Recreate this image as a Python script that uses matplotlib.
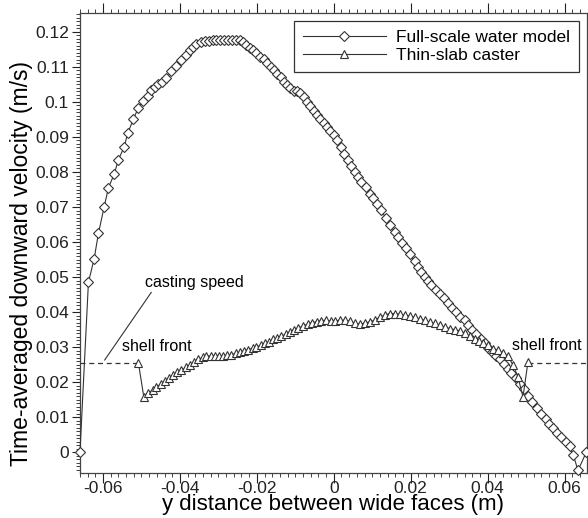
import numpy as np
import matplotlib
matplotlib.use("Agg")
import matplotlib.pyplot as plt
from matplotlib.ticker import MultipleLocator, FormatStrFormatter

plt.rcParams["font.family"] = ["Liberation Sans", "DejaVu Sans"]
plt.rcParams["axes.unicode_minus"] = False

# full-scale water model (diamonds)
water_x = [-0.0660, -0.0638, -0.0623, -0.0612, -0.0597, -0.0586, -0.0571, -0.0560,
           -0.0545, -0.0536, -0.0521, -0.0508, -0.0495, -0.0484, -0.0474, -0.0465,
           -0.0456, -0.0446, -0.0435, -0.0422, -0.0409, -0.0396, -0.0385, -0.0374,
           -0.0365, -0.0357, -0.0345, -0.0335, -0.0325, -0.0315, -0.0305, -0.0295,
           -0.0285, -0.0275, -0.0265, -0.0255, -0.0245, -0.0236, -0.0227, -0.0218,
           -0.0210, -0.0201, -0.0192, -0.0182, -0.0173, -0.0164, -0.0156, -0.0147,
           -0.0138, -0.0130, -0.0121, -0.0113, -0.0104, -0.0095, -0.0087, -0.0078,
           -0.0069, -0.0061, -0.0052, -0.0043, -0.0035, -0.0026, -0.0017, -0.0009,
           0.0000, 0.0009, 0.0018, 0.0027, 0.0036, 0.0045, 0.0054, 0.0063,
           0.0072, 0.0083, 0.0094, 0.0103, 0.0112, 0.0124, 0.0135, 0.0147,
           0.0158, 0.0167, 0.0178, 0.0189, 0.0199, 0.0210, 0.0219, 0.0228,
           0.0236, 0.0245, 0.0254, 0.0265, 0.0275, 0.0286, 0.0297, 0.0308,
           0.0319, 0.0329, 0.0340, 0.0349, 0.0360, 0.0371, 0.0384, 0.0392,
           0.0401, 0.0412, 0.0423, 0.0431, 0.0442, 0.0453, 0.0462, 0.0473,
           0.0483, 0.0494, 0.0505, 0.0516, 0.0528, 0.0539, 0.0551, 0.0559,
           0.0570, 0.0580, 0.0591, 0.0604, 0.0613, 0.0623, 0.0635, 0.0657]
water_v = [0.0000, 0.0485, 0.0553, 0.0625, 0.0701, 0.0755, 0.0794, 0.0835,
           0.0872, 0.0910, 0.0951, 0.0984, 0.1003, 0.1017, 0.1035, 0.1044,
           0.1051, 0.1058, 0.1068, 0.1087, 0.1103, 0.1120, 0.1135, 0.1148,
           0.1158, 0.1165, 0.1170, 0.1173, 0.1175, 0.1177, 0.1178, 0.1178,
           0.1178, 0.1178, 0.1178, 0.1178, 0.1176, 0.1170, 0.1162, 0.1154,
           0.1147, 0.1139, 0.1129, 0.1122, 0.1112, 0.1101, 0.1090, 0.1080,
           0.1071, 0.1058, 0.1049, 0.1039, 0.1032, 0.1030, 0.1025, 0.1013,
           0.1001, 0.0989, 0.0975, 0.0963, 0.0951, 0.0939, 0.0929, 0.0917,
           0.0906, 0.0891, 0.0870, 0.0850, 0.0833, 0.0816, 0.0800, 0.0785,
           0.0772, 0.0756, 0.0737, 0.0726, 0.0710, 0.0691, 0.0668, 0.0649,
           0.0629, 0.0615, 0.0598, 0.0584, 0.0565, 0.0546, 0.0529, 0.0515,
           0.0501, 0.0489, 0.0477, 0.0463, 0.0453, 0.0439, 0.0427, 0.0413,
           0.0401, 0.0387, 0.0377, 0.0363, 0.0349, 0.0337, 0.0322, 0.0311,
           0.0299, 0.0287, 0.0274, 0.0265, 0.0251, 0.0239, 0.0225, 0.0211,
           0.0196, 0.0180, 0.0160, 0.0143, 0.0126, 0.0110, 0.0096, 0.0082,
           0.0068, 0.0055, 0.0044, 0.0029, 0.0017, -0.0008, -0.0052, 0.0001]

# thin-slab caster (triangles)
caster_x = [-0.0508, -0.0494, -0.0482, -0.0471, -0.0461, -0.0450, -0.0439, -0.0428,
            -0.0417, -0.0407, -0.0396, -0.0384, -0.0374, -0.0364, -0.0352, -0.0341,
            -0.0331, -0.0320, -0.0309, -0.0298, -0.0288, -0.0277, -0.0266, -0.0255,
            -0.0244, -0.0234, -0.0223, -0.0211, -0.0201, -0.0190, -0.0179, -0.0168,
            -0.0158, -0.0147, -0.0136, -0.0125, -0.0114, -0.0104, -0.0093, -0.0080,
            -0.0068, -0.0056, -0.0044, -0.0032, -0.0020, -0.0008, 0.0004, 0.0016,
            0.0029, 0.0042, 0.0055, 0.0068, 0.0081, 0.0094, 0.0106, 0.0119,
            0.0132, 0.0145, 0.0158, 0.0171, 0.0184, 0.0197, 0.0210, 0.0223,
            0.0236, 0.0249, 0.0262, 0.0275, 0.0288, 0.0301, 0.0314, 0.0327,
            0.0340, 0.0353, 0.0366, 0.0377, 0.0388, 0.0401, 0.0414, 0.0427,
            0.0440, 0.0453, 0.0466, 0.0479, 0.0492, 0.0505]
caster_v = [0.0255, 0.0158, 0.0170, 0.0177, 0.0187, 0.0194, 0.0204, 0.0213,
            0.0220, 0.0229, 0.0234, 0.0242, 0.0249, 0.0258, 0.0265, 0.0271,
            0.0274, 0.0275, 0.0276, 0.0276, 0.0275, 0.0277, 0.0279, 0.0282,
            0.0286, 0.0289, 0.0293, 0.0297, 0.0301, 0.0305, 0.0311, 0.0316,
            0.0322, 0.0325, 0.0331, 0.0337, 0.0344, 0.0349, 0.0354, 0.0360,
            0.0366, 0.0370, 0.0373, 0.0376, 0.0377, 0.0375, 0.0375, 0.0377,
            0.0377, 0.0374, 0.0369, 0.0366, 0.0369, 0.0372, 0.0377, 0.0385,
            0.0391, 0.0396, 0.0396, 0.0394, 0.0391, 0.0389, 0.0385, 0.0379,
            0.0377, 0.0372, 0.0368, 0.0362, 0.0358, 0.0353, 0.0350, 0.0347,
            0.0341, 0.0331, 0.0322, 0.0318, 0.0312, 0.0306, 0.0296, 0.0291,
            0.0284, 0.0274, 0.0249, 0.0215, 0.0158, 0.0258]

casting_speed = 0.0255
xmin, xmax = -0.066, 0.0658

# the figure, sized to 588x518 px
fig = plt.figure(figsize=(5.88, 5.18), dpi=100)
ax = fig.add_axes([0.136, 0.087, 0.862, 0.888])

col = "#333333"
ax.plot(water_x, water_v, color=col, lw=0.8, marker="D", ms=4.8, mfc="white",
        mec=col, mew=0.8, label="Full-scale water model", clip_on=False, zorder=3)
ax.plot(caster_x, caster_v, color=col, lw=0.8, marker="^", ms=5.5, mfc="white",
        mec=col, mew=0.8, label="Thin-slab caster", clip_on=False, zorder=3)

# casting speed dashed lines up to the shell fronts
ax.plot([xmin, caster_x[0]], [casting_speed, casting_speed], color=col, lw=0.9, ls=(0, (4, 3)))
ax.plot([caster_x[-1], xmax], [casting_speed, casting_speed], color=col, lw=0.9, ls=(0, (4, 3)))

# annotations
ax.annotate("casting speed", xy=(-0.0596, 0.0263), xytext=(-0.0490, 0.0486),
            fontsize=11.5, va="center", ha="left",
            arrowprops=dict(arrowstyle="-", color=col, lw=0.8, shrinkA=0, shrinkB=0,
                            relpos=(0.08, 0.0)))
ax.text(-0.0460, 0.0302, "shell front", fontsize=11.5, ha="center", va="center")
ax.text(0.0553, 0.0306, "shell front", fontsize=11.5, ha="center", va="center")

ax.set_xlim(xmin, xmax)
ax.set_ylim(-0.0059, 0.1254)

ax.xaxis.set_major_locator(MultipleLocator(0.02))
ax.xaxis.set_minor_locator(MultipleLocator(0.002))
ax.yaxis.set_major_locator(MultipleLocator(0.01))
ax.yaxis.set_minor_locator(MultipleLocator(0.001))
ax.xaxis.set_major_formatter(FormatStrFormatter("%g"))
ax.yaxis.set_major_formatter(FormatStrFormatter("%g"))

ax.tick_params(axis="both", which="both", direction="out", labelsize=12.5, colors="#222222")
ax.tick_params(axis="x", which="both", top=True)
ax.tick_params(which="major", length=6, width=0.8)
ax.tick_params(which="minor", length=3, width=0.6)
ax.tick_params(axis="x", which="major", top=True, length=7, pad=-1.5)
ax.tick_params(axis="y", which="major", pad=2)

for sp in ax.spines.values():
    sp.set_color("#444444")
    sp.set_linewidth(0.9)

ax.set_xlabel("y distance between wide faces (m)", fontsize=16)
ax.set_ylabel("Time-averaged downward velocity (m/s)", fontsize=16.5)
ax.xaxis.set_label_coords(0.5, -0.046)
ax.yaxis.set_label_coords(-0.092, 0.455)

leg = ax.legend(loc="upper right", fontsize=12.5, handlelength=4.8, fancybox=False,
                edgecolor="#333333", framealpha=1, borderaxespad=0.45,
                handletextpad=0.6, borderpad=0.5, labelspacing=0.2)
leg.get_frame().set_linewidth(0.9)

fig.savefig("out.png", dpi=100)
